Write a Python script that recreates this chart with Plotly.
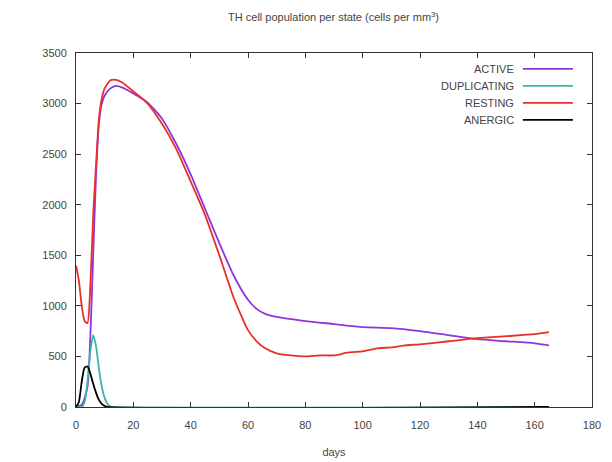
import plotly.graph_objects as go

# ---- data ----
active_days = [0, 2, 4, 5, 6, 7, 8, 9, 10, 12, 14, 16, 20, 25, 30, 35, 40, 45, 50, 55, 60, 63, 66, 70, 80, 90, 100, 110, 120, 130, 140, 150, 160, 165]
active_vals = [0, 20, 200, 700, 1500, 2300, 2800, 3000, 3080, 3150, 3175, 3160, 3100, 3010, 2850, 2600, 2300, 1960, 1620, 1300, 1060, 970, 920, 890, 850, 820, 790, 780, 750, 710, 670, 650, 630, 610]

dup_days = [0, 2, 3, 4, 5, 6, 7, 8, 9, 10, 11, 12, 13, 165]
dup_vals = [0, 0, 50, 250, 550, 710, 600, 380, 200, 90, 30, 5, 0, 0]

rest_days = [0, 1, 2, 3, 4, 5, 6, 7, 8, 9, 10, 12, 14, 16, 20, 25, 30, 35, 40, 45, 50, 55, 58, 60, 63, 66, 70, 75, 80, 85, 90, 95, 100, 105, 110, 115, 120, 130, 140, 150, 160, 165]
rest_vals = [1400, 1250, 1000, 850, 830, 1200, 1900, 2400, 2850, 3050, 3150, 3230, 3235, 3210, 3120, 3000, 2800, 2550, 2230, 1900, 1500, 1080, 880, 760, 650, 580, 530, 510, 500, 510, 510, 540, 550, 580, 590, 610, 620, 650, 680, 700, 720, 740]

anergic_days = [0, 1, 2, 3, 4, 5, 6, 7, 8, 9, 10, 11, 165]
anergic_vals = [0, 50, 250, 390, 400, 330, 230, 140, 70, 30, 10, 0, 0]

series_names = ["ACTIVE", "DUPLICATING", "RESTING", "ANERGIC"]
series_colors = ["#9035d8", "#3cb4a8", "#e8302a", "#000000"]

x_ticks = [0, 20, 40, 60, 80, 100, 120, 140, 160, 180]
y_ticks = [0, 500, 1000, 1500, 2000, 2500, 3000, 3500]

FONT = "Liberation Sans, Arial, sans-serif"
TXT = "#444"

fig = go.Figure()
data = [(active_days, active_vals), (dup_days, dup_vals), (rest_days, rest_vals), (anergic_days, anergic_vals)]
for (xs, ys), name, col in zip(data, series_names, series_colors):
    fig.add_trace(go.Scatter(x=xs, y=ys, mode="lines", name=name,
                             line=dict(color=col, width=1.8, shape="spline", smoothing=0.6),
                             showlegend=False))

# custom gnuplot-style legend (text right, sample line to the right)
leg_y = [0.955, 0.907, 0.859, 0.811]
for name, col, yy in zip(series_names, series_colors, leg_y):
    fig.add_annotation(x=0.853, y=yy, xref="paper", yref="paper", text=name,
                       showarrow=False, xanchor="right", yanchor="middle",
                       font=dict(family=FONT, size=11, color=TXT))
    fig.add_shape(type="line", xref="paper", yref="paper", x0=0.866, x1=0.963, y0=yy, y1=yy,
                  line=dict(color=col, width=1.8))

fig.update_layout(
    width=612, height=462,
    autosize=False,
    margin=dict(l=76, r=20, t=53, b=55, autoexpand=False),
    paper_bgcolor="white", plot_bgcolor="white",
    title=dict(text="TH cell population per state (cells per mm<sup>3</sup>)",
               x=0.545, xanchor="center", y=0.962, yanchor="middle",
               font=dict(family=FONT, size=11, color=TXT)),
    font=dict(family=FONT, size=11, color=TXT),
)
fig.update_xaxes(range=[0, 180], tickvals=x_ticks, ticks="inside", ticklen=5, tickcolor="#333",
                 showline=True, linecolor="#333", linewidth=1, mirror="ticks", showgrid=False,
                 zeroline=False, automargin=False, ticklabelstandoff=8,
                 title=dict(text="days", standoff=18, font=dict(family=FONT, size=11, color=TXT)),
                 tickfont=dict(family=FONT, size=11, color=TXT))
fig.update_yaxes(range=[0, 3500], tickvals=y_ticks, ticks="inside", ticklen=5, tickcolor="#333",
                 showline=True, linecolor="#333", linewidth=1, mirror="ticks", showgrid=False,
                 zeroline=False, automargin=False, ticklabelstandoff=6,
                 tickfont=dict(family=FONT, size=11, color=TXT))

fig.write_html("out.html", config={"displayModeBar": False},
               post_script="document.body.style.margin='0px';document.body.style.overflow='hidden';")
